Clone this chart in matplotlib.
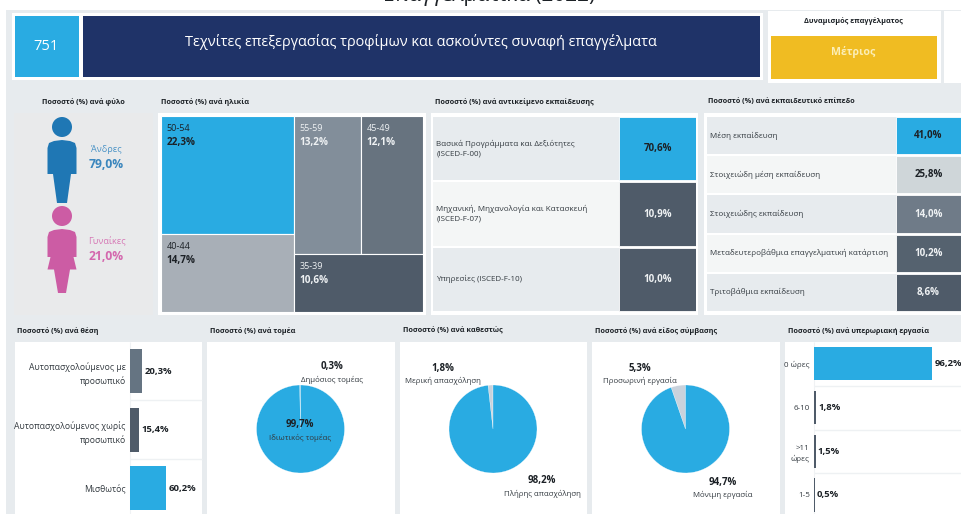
import matplotlib
matplotlib.use("Agg")
from matplotlib import pyplot as plt
from matplotlib.patches import Rectangle, Circle, Polygon

plt.rcParams['font.family'] = ['Open Sans', 'DejaVu Sans']

W, H = 961, 514

# values
page_title = "Επαγγελματικά (2022)"
occupation_code = "751"
occupation_name = "Τεχνίτες επεξεργασίας τροφίμων και ασκούντες συναφή επαγγέλματα"
dynamism = "Μέτριος"

gender_labels = ["Άνδρες", "Γυναίκες"]
gender_values = [79.0, 21.0]

age_labels = ["50-54", "40-44", "55-59", "45-49", "35-39"]
age_values = [22.3, 14.7, 13.2, 12.1, 10.6]

field_labels = ["Βασικά Προγράμματα και Δεξιότητες\n(ISCED-F-00)",
                "Μηχανική, Μηχανολογία και Κατασκευή\n(ISCED-F-07)",
                "Υπηρεσίες (ISCED-F-10)"]
field_values = [70.6, 10.9, 10.0]

edu_labels = ["Μέση εκπαίδευση", "Στοιχειώδη μέση εκπαίδευση", "Στοιχειώδης εκπαίδευση",
              "Μεταδευτεροβάθμια επαγγελματική κατάρτιση", "Τριτοβάθμια εκπαίδευση"]
edu_values = [41.0, 25.8, 14.0, 10.2, 8.6]

status_labels = ["Αυτοπασχολούμενος με\nπροσωπικό", "Αυτοπασχολούμενος χωρίς\nπροσωπικό", "Μισθωτός"]
status_values = [20.3, 15.4, 60.2]

sector_labels = ["Δημόσιος τομέας", "Ιδιωτικός τομέας"]
sector_values = [0.3, 99.7]
employment_labels = ["Μερική απασχόληση", "Πλήρης απασχόληση"]
employment_values = [1.8, 98.2]
contract_labels = ["Προσωρινή εργασία", "Μόνιμη εργασία"]
contract_values = [5.3, 94.7]

overtime_labels = ["0 ώρες", "6-10", ">11\nώρες", "1-5"]
overtime_values = [96.2, 1.8, 1.5, 0.5]

# colours
BLUE = "#29abe2"
NAVY = "#1f3368"
GOLD = "#f0bc22"
BG = "#e7ebee"
ROW_A = "#e7ebee"
ROW_B = "#f4f6f6"
SLATE = "#4f5b69"
PALE = "#c9d2dc"
MALE = "#1f77b4"
FEMALE = "#cc5ca4"
DARK = "#1c2126"
TEXT = "#333a40"
LIGHT = "#eef1f3"


def pct(v):
    return f"{v:.1f}%".replace(".", ",")


def panel_ax(x0, y0, x1, y1, **kw):
    # axes placed by pixel box, y measured from the top
    ax = fig.add_axes([x0 / W, 1 - y1 / H, (x1 - x0) / W, (y1 - y0) / H], **kw)
    ax.patch.set_alpha(0)
    return ax


def pixel_layer(zorder):
    layer = panel_ax(0, 0, W, H, zorder=zorder)
    layer.set_xlim(0, W)
    layer.set_ylim(H, 0)
    layer.axis("off")
    return layer


fig = plt.figure(figsize=(W / 100, H / 100), dpi=100, facecolor="white")

# backgrounds go under the charts, pie captions over them
page = pixel_layer(-1)
over = pixel_layer(10)


def box(x0, y0, x1, y1, color):
    page.add_patch(Rectangle((x0, y0), x1 - x0, y1 - y0, fc=color, ec="none"))


def heading(x, y, s, ha="left"):
    page.text(x, y, s, fontsize=5.2, fontweight="bold", color=DARK, ha=ha, va="center")


box(6, 10, W, H, BG)
page.text(489, 1.5, page_title, fontsize=15, color=DARK, ha="center", va="baseline")

# header strip
box(12, 13, 763, 80, "white")
box(15, 16, 79, 77, BLUE)
box(82.5, 16, 760, 77, NAVY)
page.text(46, 47, occupation_code, fontsize=10.5, color="white", ha="center", va="center")
page.text(421, 41.5, occupation_name, fontsize=10.45, color="white", ha="center", va="center")
box(768, 11, 941, 83, "white")
box(771, 36, 937, 79, GOLD)
box(944, 11, W, 83, "white")
page.text(853.5, 21.5, "Δυναμισμός επαγγέλματος", fontsize=5.2, fontweight="bold",
          color=DARK, ha="center", va="center")
page.text(853.5, 52.5, dynamism, fontsize=7.6, fontweight="bold", color="#fbeeb8",
          ha="center", va="center")

# gender panel with the two figures
heading(83, 102, "Ποσοστό (%) ανά φύλο", ha="center")
box(14, 113, 153, 315, "#e9eaeb")
page.add_patch(Circle((62, 127), 10, fc=MALE, ec="none"))
page.add_patch(Polygon([(47.5, 174), (47.5, 148), (49, 143), (54, 141), (62, 140), (70, 141),
                        (75, 143), (76.5, 148), (76.5, 174), (71, 174), (67, 203), (57, 203),
                        (53, 174)], fc=MALE, ec="none"))
page.add_patch(Circle((62, 216), 10, fc=FEMALE, ec="none"))
page.add_patch(Polygon([(47.5, 257), (47.5, 237), (49, 232), (54, 230), (62, 229), (70, 230),
                        (75, 232), (76.5, 237), (76.5, 257), (73.5, 257), (76.5, 269.5),
                        (70, 269.5), (66, 293), (58, 293), (54, 269.5), (47.5, 269.5),
                        (50.5, 257)], fc=FEMALE, ec="none"))
page.text(106.5, 150, gender_labels[0], fontsize=6.6, color="#4a93c6", ha="center", va="center")
page.text(106.5, 165, pct(gender_values[0]), fontsize=8.7, fontweight="bold", color="#3a86bd",
          ha="center", va="center")
page.text(106.5, 241.5, gender_labels[1], fontsize=6.6, color="#d678b5", ha="center", va="center")
page.text(106, 256.5, pct(gender_values[1]), fontsize=8.7, fontweight="bold", color="#d468ae",
          ha="center", va="center")

# age treemap: two columns sized by their totals
heading(161, 102, "Ποσοστό (%) ανά ηλικία")
box(158, 113, 426, 315, "white")
ax = panel_ax(161, 116, 423, 312)
ax.axis("off")
total = sum(age_values)
left_sum = age_values[0] + age_values[1]
right_sum = total - left_sum
left_w = left_sum / total
top_sum = age_values[2] + age_values[3]
top_h = top_sum / right_sum
cells = [
    (0, 1 - age_values[0] / left_sum, left_w, age_values[0] / left_sum),
    (0, 0, left_w, age_values[1] / left_sum),
    (left_w, 1 - top_h, (1 - left_w) * age_values[2] / top_sum, top_h),
    (left_w + (1 - left_w) * age_values[2] / top_sum, 1 - top_h,
     (1 - left_w) * age_values[3] / top_sum, top_h),
    (left_w, 0, 1 - left_w, 1 - top_h),
]
age_colors = [BLUE, "#a8afb7", "#828e9a", "#67737f", SLATE]
age_text = [DARK, DARK, LIGHT, LIGHT, LIGHT]
for (x, y, w, h), c, tc, lab, v in zip(cells, age_colors, age_text, age_labels, age_values):
    ax.bar(x, h, w, y, align="edge", color=c, edgecolor="white", linewidth=0.8)
    ax.annotate(lab, (x, y + h), xytext=(5.5, -12.5), textcoords="offset pixels",
                fontsize=6.5, color=tc, va="center")
    ax.annotate(pct(v), (x, y + h), xytext=(5.5, -26), textcoords="offset pixels",
                fontsize=7.2, fontweight="bold", color=tc, va="center")
ax.set_xlim(0, 1)
ax.set_ylim(0, 1)


def table_panel(x0, x_split, x1, y0, y1, labels, values, colors, text_colors, row_gap):
    # rows of label cell + coloured value cell
    ax = panel_ax(x0, y0, x1, y1)
    ax.axis("off")
    rows = list(range(len(values)))
    ax.barh(rows, [1] * len(values), height=row_gap,
            color=[ROW_A if i % 2 == 0 else ROW_B for i in rows])
    frac = (x_split - x0) / (x1 - x0)
    ax.barh(rows, [1 - frac] * len(values), height=row_gap, left=frac, color=colors,
            edgecolor="white", linewidth=0.6)
    for i in rows:
        ax.text(0.012, i, labels[i], fontsize=5.72, color=TEXT, va="center", linespacing=1.45)
        ax.text((frac + 1) / 2, i, pct(values[i]), fontsize=7, fontweight="bold",
                color=text_colors[i], ha="center", va="center")
    ax.set_xlim(0, 1)
    ax.set_ylim(len(values) - 0.5, -0.5)


heading(435, 102, "Ποσοστό (%) ανά αντικείμενο εκπαίδευσης")
box(431, 113, 698, 315, "white")
table_panel(433, 619, 696, 116, 312, field_labels, field_values, [BLUE, SLATE, SLATE],
            [DARK, LIGHT, LIGHT], 0.97)

heading(708, 102, "Ποσοστό (%) ανά εκπαιδευτικό επίπεδο")
box(704, 113, W, 315, "white")
table_panel(707, 896, 961, 116, 312, edu_labels, edu_values,
            [BLUE, "#cfd6d9", "#6f7b88", "#55626f", SLATE],
            [DARK, DARK, LIGHT, LIGHT, LIGHT], 0.95)


def hbar_panel(x0, x1, y1, labels, values, colors, bar_h, size):
    # horizontal bars on a 0-100 scale with category names as tick labels
    ax = panel_ax(x0, 342, x1, y1)
    n = len(values)
    ax.barh(range(n), values, height=bar_h, color=colors)
    ax.set_xlim(0, 100)
    ax.set_ylim(n - 0.5, -0.5)
    ax.set_yticks(range(n), labels, fontsize=size, color=TEXT, linespacing=1.5, ha="right")
    ax.tick_params(left=False, bottom=False, labelbottom=False, length=0, pad=3)
    for s in ax.spines.values():
        s.set_visible(False)
    for i, v in enumerate(values):
        ax.annotate(pct(v), (v, i), xytext=(1.5, 0), textcoords="offset points", fontsize=6.8,
                    fontweight="bold", color=DARK, va="center", annotation_clip=False)


# bottom row
heading(17, 331, "Ποσοστό (%) ανά θέση")
box(15, 342, 202, H, "white")
page.hlines([400, 459], 130, 202, color=LIGHT, linewidth=1)
page.vlines(129.5, 342, H, color="#f0f2f4", linewidth=0.8)
hbar_panel(130, 190, 517.5, status_labels, status_values, ["#657482", SLATE, BLUE], 0.75, 6.2)


def pie_panel(px0, px1, cx, head, values, labels, small_xy, big_xy):
    heading(px0 + 3, 331, head)
    box(px0, 342, px1, H, "white")
    r = 44
    ax = panel_ax(cx - r, 429 - r, cx + r, 429 + r)
    ax.pie(values, colors=[PALE, BLUE], startangle=90, radius=1,
           wedgeprops=dict(edgecolor="white", linewidth=0.2))
    ax.set_xlim(-1, 1)
    ax.set_ylim(-1, 1)
    for (x, y), lab, v in zip((small_xy, big_xy), labels, values):
        over.text(x, y, pct(v), fontsize=7, fontweight="bold", color=DARK, ha="center", va="center")
        over.text(x, y + 12.5, lab, fontsize=5.7, color=TEXT, ha="center", va="center")


pie_panel(207, 395, 300.5, "Ποσοστό (%) ανά τομέα", sector_values, sector_labels, (332, 367), (300, 425))
pie_panel(400, 587, 493, "Ποσοστό (%) ανά καθεστώς", employment_values, employment_labels, (443, 368.5), (542, 481))
pie_panel(592, 780, 685.5, "Ποσοστό (%) ανά είδος σύμβασης", contract_values, contract_labels, (640, 368), (723, 482))

heading(788, 331, "Ποσοστό (%) ανά υπερωριακή εργασία")
box(785, 342, W, H, "white")
page.hlines([386, 429.5, 473], 814, W, color=LIGHT, linewidth=1)
page.vlines(813.5, 342, H, color="#f0f2f4", linewidth=0.8)
hbar_panel(814, 937, 516.8, overtime_labels, overtime_values, [BLUE, SLATE, SLATE, SLATE], 0.76, 5.8)

plt.savefig("out.png", dpi=100)
